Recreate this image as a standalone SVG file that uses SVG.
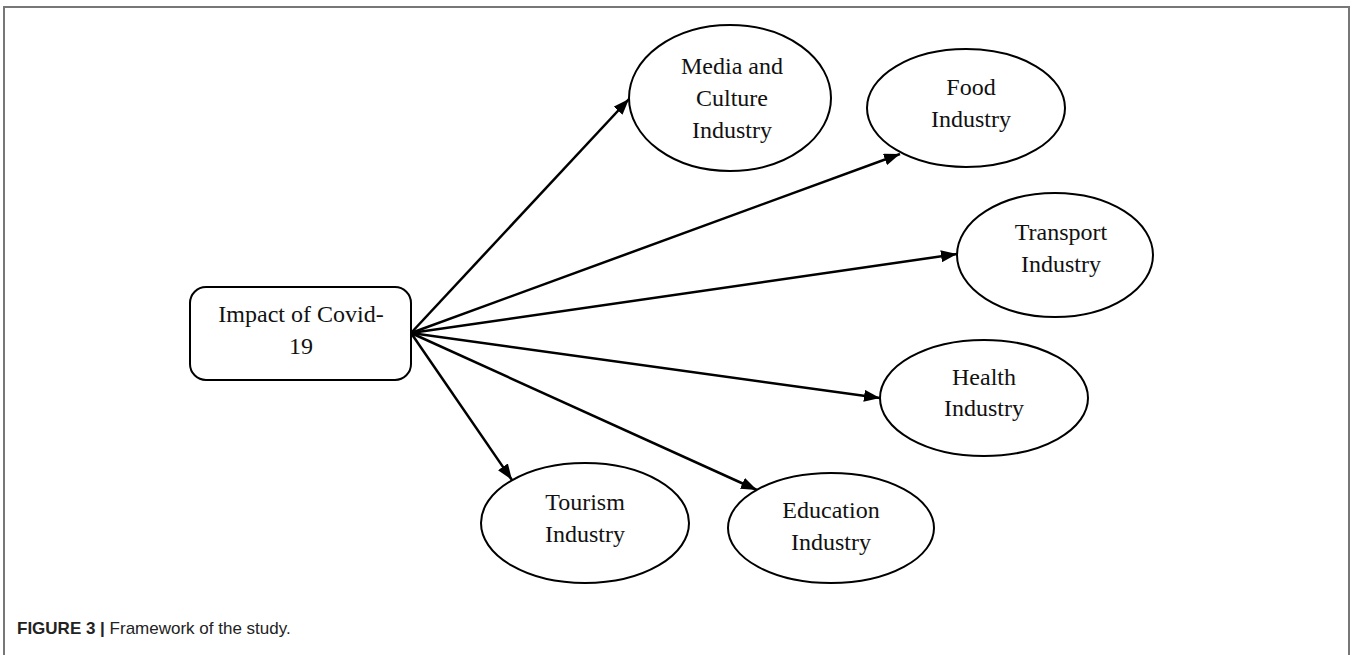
<svg xmlns="http://www.w3.org/2000/svg" width="1352" height="655" viewBox="0 0 1352 655">
<style>
.n{fill:#fff;stroke:#000;stroke-width:2}
.t{font-family:"Liberation Serif",serif;font-size:24px;fill:#111;text-anchor:middle}
.c{stroke:#000;stroke-width:2.5;fill:none;marker-end:url(#ah)}
.f{fill:none;stroke:#777;stroke-width:2}
</style>
<defs>
<marker id="ah" viewBox="0 0 16 12" refX="16" refY="6" markerWidth="16" markerHeight="12" markerUnits="userSpaceOnUse" orient="auto">
<path d="M0,0L16,6L0,12z" fill="#000"/>
</marker>
</defs>
<rect width="1352" height="655" fill="#fff"/>
<path class="f" d="M4,655V7H1349V655"/>
<g id="impact">
<rect class="n" x="190" y="287" width="221" height="93" rx="16"/>
<text class="t" x="301" y="322">Impact of Covid-</text>
<text class="t" x="301" y="354">19</text>
</g>
<g id="media">
<ellipse class="n" cx="730" cy="98" rx="101" ry="73"/>
<text class="t" x="732" y="74">Media and</text>
<text class="t" x="732" y="106">Culture</text>
<text class="t" x="732" y="138">Industry</text>
</g>
<g id="food">
<ellipse class="n" cx="966" cy="108" rx="99" ry="59"/>
<text class="t" x="971" y="95">Food</text>
<text class="t" x="971" y="127">Industry</text>
</g>
<g id="transport">
<ellipse class="n" cx="1055" cy="255" rx="98" ry="62"/>
<text class="t" x="1061" y="240">Transport</text>
<text class="t" x="1061" y="272">Industry</text>
</g>
<g id="health">
<ellipse class="n" cx="984" cy="398" rx="104" ry="58"/>
<text class="t" x="984" y="385">Health</text>
<text class="t" x="984" y="416">Industry</text>
</g>
<g id="tourism">
<ellipse class="n" cx="585" cy="523" rx="104" ry="60"/>
<text class="t" x="585" y="510">Tourism</text>
<text class="t" x="585" y="542">Industry</text>
</g>
<g id="education">
<ellipse class="n" cx="831" cy="528" rx="103" ry="55"/>
<text class="t" x="831" y="518">Education</text>
<text class="t" x="831" y="550">Industry</text>
</g>
<g id="connectors">
<line class="c" x1="411" y1="333" x2="629" y2="99"/>
<line class="c" x1="411" y1="333" x2="900" y2="154"/>
<line class="c" x1="411" y1="333" x2="957" y2="254"/>
<line class="c" x1="411" y1="333" x2="880" y2="398"/>
<line class="c" x1="411" y1="333" x2="512" y2="480"/>
<line class="c" x1="411" y1="333" x2="757" y2="490"/>
</g>
<text x="17" y="634" font-family="Liberation Sans,Arial,sans-serif" font-size="17" fill="#222"><tspan font-weight="bold">FIGURE 3 |</tspan> Framework of the study.</text>
</svg>
